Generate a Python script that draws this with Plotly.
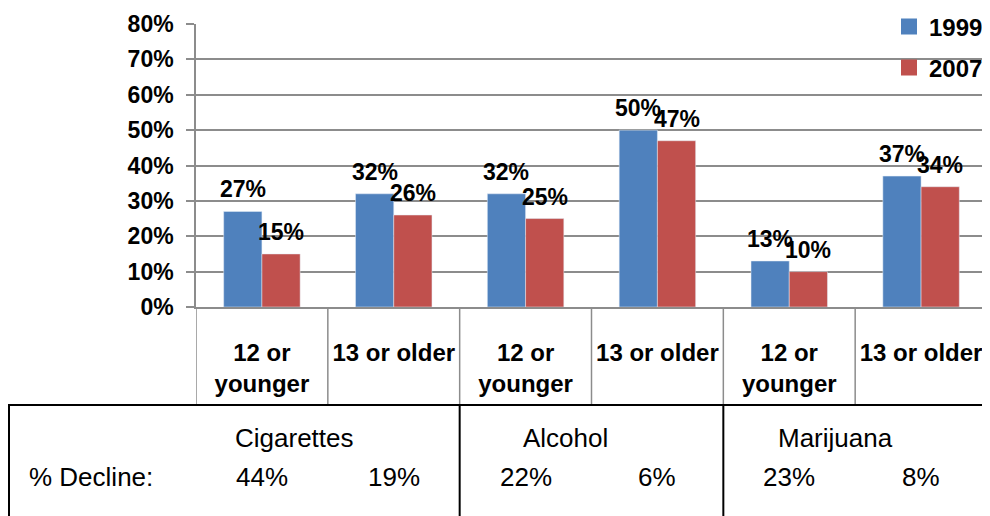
import plotly.graph_objects as go

categories = ["12 or<br>younger", "13 or older", "12 or<br>younger", "13 or older", "12 or<br>younger", "13 or older"]
values_1999 = [0.27, 0.32, 0.32, 0.50, 0.13, 0.37]
values_2007 = [0.15, 0.26, 0.25, 0.47, 0.10, 0.34]
substances = ["Cigarettes", "Alcohol", "Marijuana"]
substance_pos = [0.25, 2.3, 4.35]
declines = ["44%", "19%", "22%", "6%", "23%", "8%"]
y_ticks = [0, 0.1, 0.2, 0.3, 0.4, 0.5, 0.6, 0.7, 0.8]

FONT = "Liberation Sans"
BLUE = "#4F81BD"
RED = "#C0504D"
GRID = "#8C8C8C"
BARGAP = 0.42

xs = list(range(len(categories)))

fig = go.Figure()
fig.add_trace(go.Bar(x=xs, y=values_1999, name="1999", marker_color=BLUE, showlegend=False))
fig.add_trace(go.Bar(x=xs, y=values_2007, name="2007", marker_color=RED, showlegend=False))
# legend entries with larger square swatches
fig.add_trace(go.Scatter(x=[None], y=[None], mode="markers", name="1999", legend="legend",
                         marker=dict(symbol="square", size=16, color=BLUE)))
fig.add_trace(go.Scatter(x=[None], y=[None], mode="markers", name="2007", legend="legend2",
                         marker=dict(symbol="square", size=16, color=RED)))

# screen-pixel geometry of the plot area (page body adds an 8px offset)
OFF = 8
FIG_W, FIG_H = 990 - OFF, 516 - OFF
PX_TOP, PX_BOT, PX_L, PX_R = 24, 307, 196, 987
H = PX_BOT - PX_TOP
W = PX_R - PX_L


def py(p):
    return (PX_BOT - p) / H


def px(p):
    return (p - PX_L) / W


shapes = []
# category cell dividers
for i in range(len(categories) + 1):
    shapes.append(dict(type="line", xref="x", yref="paper", x0=i - 0.5, x1=i - 0.5,
                       y0=0, y1=py(405), line=dict(color=GRID, width=1.5)))
# table lines
shapes.append(dict(type="line", xref="paper", yref="paper", x0=px(8), x1=px(995),
                   y0=py(405), y1=py(405), line=dict(color="black", width=2)))
shapes.append(dict(type="line", xref="paper", yref="paper", x0=px(9), x1=px(9),
                   y0=py(405), y1=py(525), line=dict(color="black", width=2)))
for xv in [1.5, 3.5]:
    shapes.append(dict(type="line", xref="x", yref="paper", x0=xv, x1=xv,
                       y0=py(405), y1=py(525), line=dict(color="black", width=2)))

annotations = []
# data labels above each bar (grouped bar centres from the bar gap)
half = (1 - BARGAP) / 4
for series, sign in [(values_1999, -1), (values_2007, 1)]:
    for i, v in enumerate(series):
        annotations.append(dict(x=i + sign * half, y=v, xref="x", yref="y", text=f"{round(v * 100)}%",
                                showarrow=False, xanchor="center", yanchor="bottom", yshift=7,
                                font=dict(family=FONT, size=23, color="black", weight="bold")))
for name, pos in zip(substances, substance_pos):
    annotations.append(dict(x=pos, y=py(438), xref="x", yref="paper", text=name, showarrow=False,
                            font=dict(family=FONT, size=26, color="black"), xanchor="center", yanchor="middle"))
for i, d in enumerate(declines):
    annotations.append(dict(x=i, y=py(477), xref="x", yref="paper", text=d, showarrow=False,
                            font=dict(family=FONT, size=26, color="black"), xanchor="center", yanchor="middle"))
annotations.append(dict(x=px(27), y=py(477), xref="paper", yref="paper", text="% Decline:", showarrow=False,
                        font=dict(family=FONT, size=26, color="black"), xanchor="left", yanchor="middle"))

fig.update_layout(
    width=FIG_W, height=FIG_H,
    margin=dict(l=PX_L - OFF, r=FIG_W - (PX_R - OFF), t=PX_TOP - OFF, b=FIG_H - (PX_BOT - OFF),
                autoexpand=False),
    paper_bgcolor="white", plot_bgcolor="white",
    barmode="group", bargap=BARGAP, bargroupgap=0,
    showlegend=True,
    legend=dict(x=px(889), y=py(27), xanchor="left", yanchor="middle", bgcolor="rgba(0,0,0,0)",
                font=dict(family=FONT, size=24, color="black", weight="bold")),
    legend2=dict(x=px(889), y=py(68), xanchor="left", yanchor="middle", bgcolor="rgba(0,0,0,0)",
                 font=dict(family=FONT, size=24, color="black", weight="bold")),
    shapes=shapes, annotations=annotations,
)
fig.update_xaxes(
    range=[-0.5, 5.5], tickmode="array", tickvals=xs, ticktext=categories,
    showgrid=False, showline=True, linecolor=GRID, linewidth=1.5, ticks="",
    tickfont=dict(family=FONT, size=24, color="black", weight="bold"),
    ticklabelstandoff=23, zeroline=False,
)
fig.update_yaxes(
    range=[0, 0.8], tickmode="array", tickvals=y_ticks, tickformat=".0%",
    showgrid=True, gridcolor=GRID, gridwidth=1.5, showline=True, linecolor=GRID, linewidth=1.5,
    ticks="outside", ticklen=8, tickcolor=GRID, tickwidth=1.5,
    tickfont=dict(family=FONT, size=23, color="black", weight="bold"), zeroline=False,
    ticklabelstandoff=8,
)

fig.write_html("out.html")
